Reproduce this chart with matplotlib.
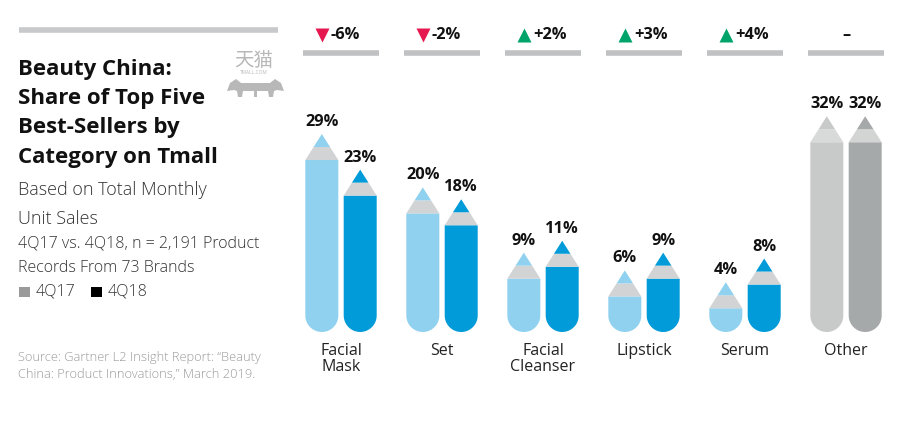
import numpy as np
import matplotlib.pyplot as plt
from matplotlib.patches import Polygon, Rectangle

plt.rcParams['font.family'] = ['Open Sans', 'DejaVu Sans']

# data
categories = ['Facial\nMask', 'Set', 'Facial\nCleanser', 'Lipstick', 'Serum', 'Other']
share_4q17 = [29, 20, 9, 6, 4, 32]
share_4q18 = [23, 18, 11, 9, 8, 32]
change = ['-6%', '-2%', '+2%', '+3%', '+4%', '–']

# colours (body, band, tip) per series
col17 = ['#8fd1ee'] * 5 + ['#c8caca']
col18 = ['#009bd8'] * 5 + ['#a6a9aa']
band17 = ['#d1d3d4'] * 5 + ['#d8dada']
band18 = ['#d1d3d4'] * 5 + ['#d3d5d5']
tip17 = col17
tip18 = col18

W, H = 905, 424
fig = plt.figure(figsize=(W / 100, H / 100), dpi=100)

def fx(px):
    return px / W

def fy(py):
    return 1 - py / H

# chart axes: 1% = 5.93 px, bottom of pencils at px 332
ppy = 5.93
ppx = 101.0
ax = fig.add_axes([fx(290), fy(332), fx(605), 312 / H])
ax.set_xlim(-0.505, 605 / ppx - 0.505)
ax.set_ylim(0, 312 / ppy)
ax.axis('off')

bw = 33 / ppx           # bar width in x units
rx = bw / 2
ry = (33 / 2) / ppy     # semicircle radius in y units
tip_h = 26 / ppy
off = 0.19


def pencil(xc, v, body, band, tip):
    # body with rounded bottom
    t = np.linspace(np.pi, 2 * np.pi, 30)
    xs = list(xc + rx * np.cos(t)) + [xc + rx, xc - rx]
    ys = list(ry + ry * np.sin(t)) + [v, v]
    ax.add_patch(Polygon(np.column_stack([xs, ys]), closed=True, fc=body, ec='none'))
    # sharpened wood band (lower half of the cone)
    ax.add_patch(Polygon([[xc - rx, v], [xc + rx, v],
                          [xc + rx / 2, v + tip_h / 2], [xc - rx / 2, v + tip_h / 2]],
                         closed=True, fc=band, ec='none'))
    # lead tip
    ax.add_patch(Polygon([[xc - rx / 2, v + tip_h / 2], [xc + rx / 2, v + tip_h / 2],
                          [xc, v + tip_h]], closed=True, fc=tip, ec='none'))
    ax.text(xc, v + tip_h + 4 / ppy, f'{v}%', ha='center', va='bottom',
            fontsize=11.8, fontweight='bold', color='#111111')


for i in range(len(categories)):
    pencil(i - off, share_4q17[i], col17[i], band17[i], tip17[i])
    pencil(i + off, share_4q18[i], col18[i], band18[i], tip18[i])
    ax.text(i, -11 / ppy, categories[i], ha='center', va='top', fontsize=11.5,
            color='#222222', linespacing=1.0)

# header rows with change indicators
tr = ax.get_xaxis_transform()
for i, c in enumerate(change):
    ax.plot([i - 0.38, i + 0.38], [(332 - 53) / 312] * 2, transform=tr,
            color='#bfc1c2', lw=4, solid_capstyle='butt', clip_on=False)
    yl = (332 - 35) / 312
    if c.startswith('-'):
        ax.plot(i - 0.19, yl, marker='v', ms=9.5, color='#e5194f', mec='none',
                transform=tr, clip_on=False)
    elif c.startswith('+'):
        ax.plot(i - 0.19, yl, marker='^', ms=9.5, color='#00a46b', mec='none',
                transform=tr, clip_on=False)
    if c == '–':
        ax.text(i, yl, c, transform=tr, ha='center', va='center', fontsize=11.8,
                fontweight='bold', color='#111111')
    else:
        ax.text(i - 0.10, yl, c, transform=tr, ha='left', va='center', fontsize=11.8,
                fontweight='bold', color='#111111')

# left panel
fig.add_artist(plt.Line2D([fx(19), fx(278)], [fy(30)] * 2, color='#c8c9ca', lw=4,
                          solid_capstyle='butt'))
title_lines = ['Beauty China:', 'Share of Top Five', 'Best-Sellers by', 'Category on Tmall']
for k, line in enumerate(title_lines):
    fig.text(fx(18), fy(69 + 29.5 * k), line, fontsize=16, fontweight='bold',
             color='#111111', va='center', ha='left')
sub_lines = ['Based on Total Monthly', 'Unit Sales']
for k, line in enumerate(sub_lines):
    fig.text(fx(18), fy(190 + 29 * k), line, fontsize=13, fontweight='light',
             color='#333333', va='center', ha='left')
note_lines = ['4Q17 vs. 4Q18, n = 2,191 Product', 'Records From 73 Brands']
for k, line in enumerate(note_lines):
    fig.text(fx(18), fy(244 + 24 * k), line, fontsize=11.5, fontweight='light',
             color='#333333', va='center', ha='left')
# legend
fig.add_artist(Rectangle((fx(19), fy(297)), fx(11), 10 / H, transform=fig.transFigure,
                         fc='#9a9a9a', ec='none'))
fig.text(fx(36), fy(292), '4Q17', fontsize=11.5, fontweight='light', color='#333333',
         va='center', ha='left')
fig.add_artist(Rectangle((fx(91), fy(297)), fx(11), 10 / H, transform=fig.transFigure,
                         fc='#000000', ec='none'))
fig.text(fx(108), fy(292), '4Q18', fontsize=11.5, fontweight='light', color='#333333',
         va='center', ha='left')

source = 'Source: Gartner L2 Insight Report: \u201cBeauty\nChina: Product Innovations,\u201d March 2019.'
fig.text(fx(18), fy(366), source, fontsize=9.3, fontweight='light', color='#9a9a9a',
         va='center', ha='left', linespacing=1.3)

# Tmall logo
fig.text(fx(254), fy(61), '天猫', family=['Noto Sans CJK SC'], fontsize=14,
         color='#b8b8b8', ha='center', va='center')
fig.text(fx(254), fy(73), 'TMALL.COM', fontsize=3.5, color='#b8b8b8', ha='center',
         va='center')
lax = fig.add_axes([fx(227), fy(97), fx(57), 20 / H])
lax.set_xlim(0, 57)
lax.set_ylim(20, 0)
lax.axis('off')
head = [[0, 14], [3, 6], [9, 2], [14, 6], [43, 6], [48, 2], [54, 6], [57, 14],
        [50, 13], [47, 14], [46, 20], [42, 20], [41, 14], [30, 14], [30, 20],
        [27, 20], [27, 14], [16, 14], [15, 20], [11, 20], [10, 14], [7, 13]]
lax.add_patch(Polygon(head, closed=True, fc='#b8b8b8', ec='none'))

fig.savefig('out.png', dpi=100)
